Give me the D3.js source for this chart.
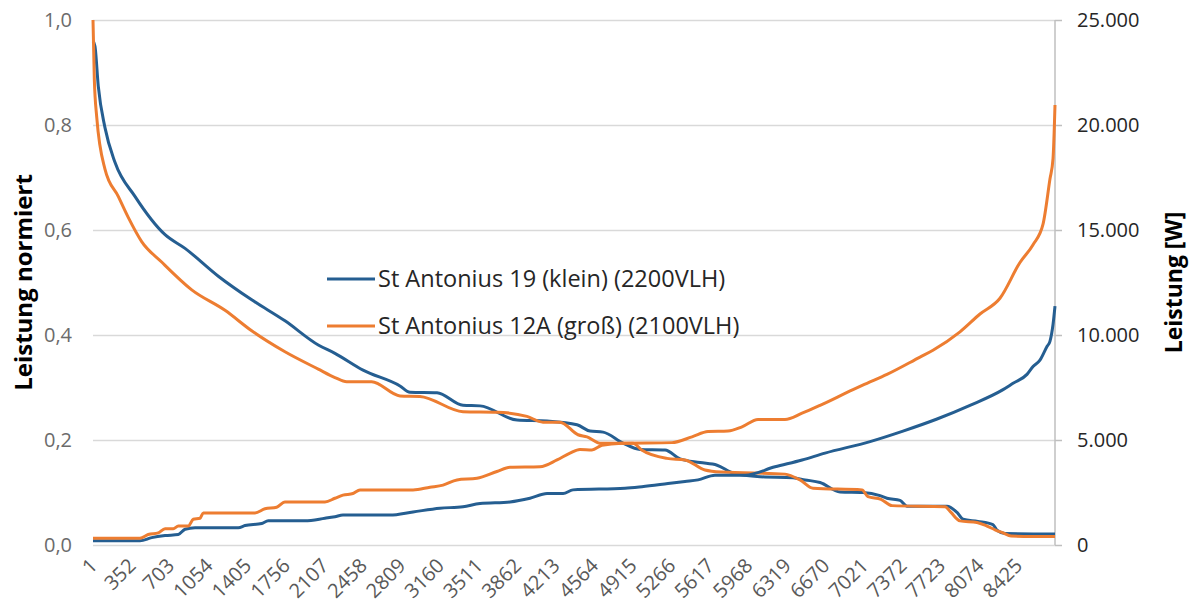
<!DOCTYPE html>
<html>
<head>
<meta charset="utf-8">
<script src="https://d3js.org/d3.v7.min.js"></script>
<style>
  body { margin: 0; background: #fff; }
  text { font-family: "Open Sans", "Noto Sans", sans-serif; }
</style>
</head>
<body>
<div id="chart"></div>
<script>
var svg;
var x;
var yLeft;
var yRight;
const margin = {'top':20,'right':139,'bottom':63,'left':93};
const width = 1194 - margin.left - margin.right;
const height = 608 - margin.top - margin.bottom;

const hoursTotal = 8760;
const tickHours = [1,352,703,1054,1405,1756,2107,2458,2809,3160,3511,3862,4213,4564,4915,5266,5617,5968,6319,6670,7021,7372,7723,8074,8425];
const leftTicks = [0,0.2,0.4,0.6,0.8,1.0];
const rightTicks = [0,5000,10000,15000,20000,25000];
const seriesNames = ['St Antonius 19 (klein) (2200VLH)','St Antonius 12A (groß) (2100VLH)'];
const colors = ['#255e91','#ed7d31'];

// sorted normalised power (left axis), [hour, value]
const kleinNorm = [[1,0.96],[19,0.95],[49,0.874],[110,0.795],[201,0.729],[383,0.664],[657,0.591],[839,0.565],
  [1142,0.512],[1446,0.467],[1749,0.427],[2052,0.381],[2204,0.365],[2460,0.333],[2796,0.303],[2887,0.291],
  [3133,0.290],[3370,0.266],[3525,0.265],[3862,0.238],[4135,0.236],[4408,0.229],[4526,0.217],[4645,0.215],
  [4827,0.194],[4982,0.182],[5209,0.181],[5346,0.164],[5528,0.157],[5683,0.152],[5829,0.137],[6074,0.130],
  [6375,0.128],[6484,0.124],[6621,0.119],[6803,0.101],[7012,0.100],[7167,0.094],[7230,0.089],[7349,0.085],
  [7413,0.074],[7777,0.074],[7868,0.062],[7923,0.049],[8058,0.045],[8195,0.039],[8232,0.028],[8305,0.022],[8760,0.021]];
const grossNorm = [[1,1.0],[13,0.887],[35,0.815],[110,0.716],[231,0.664],[322,0.624],[444,0.578],[626,0.539],
  [900,0.486],[1203,0.447],[1446,0.408],[1749,0.368],[2052,0.335],[2204,0.319],[2311,0.311],[2538,0.311],
  [2796,0.284],[2978,0.283],[3370,0.254],[3679,0.253],[3952,0.245],[4098,0.234],[4253,0.234],[4417,0.210],
  [4499,0.206],[4617,0.194],[4918,0.194],[4997,0.181],[5227,0.165],[5391,0.162],[5573,0.143],[5725,0.139],
  [6301,0.135],[6438,0.124],[6557,0.108],[7003,0.105],[7057,0.092],[7176,0.087],[7276,0.075],[7759,0.073],
  [7813,0.062],[7895,0.046],[8050,0.043],[8141,0.036],[8214,0.029],[8287,0.023],[8360,0.017],[8760,0.016]];

// sorted power in W (right axis), [hour, W]
const kleinWatt = [[1,200],[429,200],[535,350],[657,450],[778,500],[839,750],[930,825],[1324,825],[1385,925],
  [1537,1025],[1597,1150],[1931,1150],[2113,1275],[2204,1350],[2277,1425],[2705,1425],[2915,1575],[3160,1750],
  [3370,1825],[3525,1975],[3798,2050],[3980,2225],[4135,2450],[4281,2450],[4371,2625],[4845,2700],[4999,2775],
  [5236,2925],[5391,3025],[5510,3100],[5664,3325],[5938,3325],[6211,3725],[6457,4050],[6666,4375],[7076,4925],
  [7376,5425],[7686,6000],[7986,6650],[8287,7400],[8378,7700],[8505,8125],[8560,8500],[8623,8800],[8687,9450],
  [8714,9700],[8742,10500],[8760,11375]];
const grossWatt = [[1,325],[429,325],[504,500],[595,575],[657,775],[732,775],[778,900],[869,900],[914,1225],
  [975,1275],[1005,1525],[1476,1525],[1567,1725],[1673,1800],[1749,2050],[2113,2050],[2204,2225],[2277,2375],
  [2368,2450],[2432,2625],[2915,2625],[3069,2750],[3188,2850],[3315,3100],[3497,3175],[3679,3500],[3798,3700],
  [4071,3725],[4226,4050],[4344,4375],[4435,4550],[4544,4525],[4635,4750],[4817,4850],[5273,4875],[5455,5150],
  [5601,5400],[5783,5425],[5910,5625],[6056,5975],[6301,5975],[6457,6275],[6621,6650],[6921,7400],[7048,7700],
  [7230,8125],[7531,8950],[7649,9275],[7895,10150],[8077,11000],[8259,11750],[8441,13450],[8560,14300],
  [8651,15275],[8714,17425],[8742,18400],[8760,20950]];

const de = d3.formatLocale({decimal: ',', thousands: '.', grouping: [3], currency: ['', ' €']});

function setup(){
  svg = d3.select('#chart')
          .append('svg')
          .attr('width', width + margin.left + margin.right)
          .attr('height', height + margin.top + margin.bottom)
          .append('g')
          .attr('transform', `translate(${margin.left},${margin.top})`)
}

function setScales(){
  x = d3.scaleLinear().domain([1, hoursTotal]).range([0, width]);
  yLeft = d3.scaleLinear().domain([0, 1]).range([height, 0]);
  yRight = d3.scaleLinear().domain([0, 25000]).range([height, 0]);

  // grid + left labels
  let left = svg.append('g')
     .call(d3.axisLeft(yLeft).tickValues(leftTicks).tickSize(-width).tickFormat(de.format('.1f')))
  left.select('.domain').remove()
  left.selectAll('line').attr('stroke', '#d9d9d9').attr('stroke-width', 1.5)
  left.selectAll('text').attr('x', -21).attr('fill', '#6b6b6b').style('font-size', '20px')

  let right = svg.append('g')
     .attr('transform', `translate(${width},0)`)
     .call(d3.axisRight(yRight).tickValues(rightTicks).tickSize(7).tickPadding(15).tickFormat(de.format(',d')))
  right.select('.domain').attr('stroke', '#bfbfbf').attr('stroke-width', 1.5).attr('d', `M0,0V${height}`)
  right.selectAll('line').attr('stroke', '#bfbfbf').attr('stroke-width', 1.5)
  right.selectAll('text').attr('fill', '#262626').style('font-size', '20px')

  let bottom = svg.append('g')
     .attr('transform', `translate(0,${height})`)
     .call(d3.axisBottom(x).tickValues(tickHours).tickSize(0).tickFormat(d => d))
  bottom.select('.domain').remove()
  bottom.selectAll('text')
     .attr('fill', '#595959')
     .style('font-size', '20px')
     .style('text-anchor', 'end')
     .attr('y', 0).attr('dy', 0)
     .attr('transform', 'translate(5,22) rotate(-45)')
}

function drawLines(){
  let lineLeft = d3.line().curve(d3.curveMonotoneX).x(d => x(d[0])).y(d => yLeft(d[1]));
  let lineRight = d3.line().curve(d3.curveMonotoneX).x(d => x(d[0])).y(d => yRight(d[1]));
  let lines = [[kleinNorm, lineLeft, 0], [grossNorm, lineLeft, 1], [kleinWatt, lineRight, 0], [grossWatt, lineRight, 1]];
  lines.forEach(l => {
    svg.append('path')
       .datum(l[0])
       .attr('d', l[1])
       .attr('fill', 'none')
       .attr('stroke', colors[l[2]])
       .attr('stroke-width', 3)
       .attr('stroke-linejoin', 'round')
  })
}

function setLegend(){
  let leg = svg.append('g').attr('transform', `translate(${327 - margin.left},${279 - margin.top})`)
  seriesNames.forEach((name, i) => {
    leg.append('line')
       .attr('x1', 0).attr('x2', 48)
       .attr('y1', i * 47).attr('y2', i * 47)
       .attr('stroke', colors[i]).attr('stroke-width', 3)
    leg.append('text')
       .attr('x', 51).attr('y', i * 47).attr('dy', '0.36em')
       .attr('fill', '#262626')
       .style('font-size', '23.5px')
       .text(name)
  })
}

function setAxisLables(){
  svg.append('text')
     .attr('transform', 'rotate(-90)')
     .attr('x', -height / 2)
     .attr('y', 24 - margin.left)
     .attr('dy', '0.35em')
     .style('text-anchor', 'middle')
     .style('font-size', '24px')
     .style('font-weight', 'bold')
     .text('Leistung normiert');

  svg.append('text')
     .attr('transform', 'rotate(-90)')
     .attr('x', -height / 2)
     .attr('y', 1174 - margin.left)
     .attr('dy', '0.35em')
     .style('text-anchor', 'middle')
     .style('font-size', '23px')
     .style('font-weight', 'bold')
     .text('Leistung [W]');
}

setup();
setScales();
drawLines();
setLegend();
setAxisLables();
</script>
</body>
</html>
